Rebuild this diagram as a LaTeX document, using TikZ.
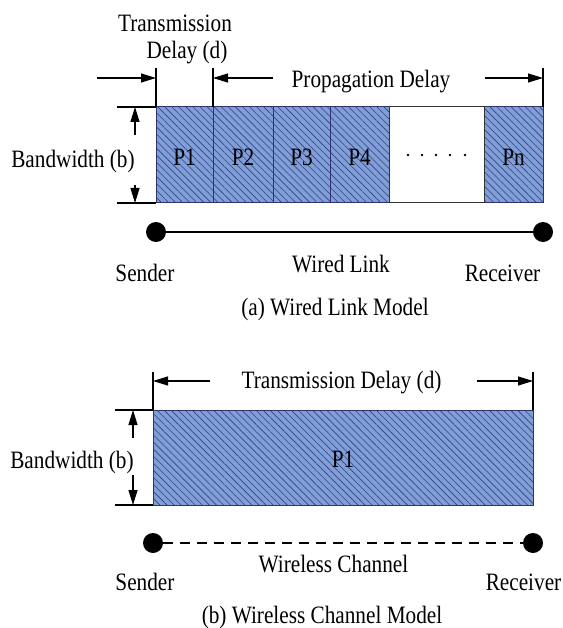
\documentclass[tikz,border=0pt]{standalone}
\usepackage{fontspec}
\setmainfont{Liberation Serif}[FakeStretch=0.85]
\usetikzlibrary{arrows.meta,patterns.meta}
\definecolor{pktblue}{RGB}{128,158,216}
\definecolor{pkthatch}{RGB}{52,64,126}
\definecolor{pktedge}{RGB}{50,50,110}
\tikzset{
  txt/.style = {font = \fontsize{25}{30}\selectfont, inner sep = 0pt, anchor = base},
  pkt/.style = {draw = pktedge, line width = 1pt, preaction = {fill = pktblue},
    pattern = {Lines[angle = -45, distance = 5pt, line width = 0.6pt]}, pattern color = pkthatch},
  dim/.style = {line width = 1.2pt, -{Triangle[length = 15pt, width = 9pt]}},
  tick/.style = {line width = 1.2pt},
  host/.style = {circle, fill = black, minimum size = 20pt, inner sep = 0pt},
}
\begin{document}
\begin{tikzpicture}[x = 1pt, y = -1pt]
  \useasboundingbox (0,0) rectangle (562,628);
  % (a) wired link
  \foreach \l/\r/\name in {156/213/P1, 213/273/P2, 273/330/P3, 330/389/P4, 484/543/Pn}{
    \draw[pkt] (\l,107) rectangle (\r,203);
    \node[txt] (\name) at ({(\l+\r)/2},166) {\name};
  }
  \draw[line width = 1pt, black!80] (389,107) rectangle (484,203);
  \foreach \x in {408,422,436,450,465}
    \fill (\x,155) circle (1.3pt);
  \draw[tick] (117,107) -- (156,107) (117,203) -- (156,203);
  \draw[dim] (135,135) -- (135,107);
  \draw[dim] (135,185) -- (135,203);
  \node[txt] (bwa) at (73,168) {Bandwidth (b)};
  \draw[tick] (156,68) -- (156,107) (213,68) -- (213,107) (543,68) -- (543,107);
  \draw[dim] (97,78) -- (156,78);
  \draw[dim] (273,78) -- (213,78);
  \draw[dim] (485,78) -- (543,78);
  \node[txt] (trxa) at (175,31.5) {Transmission};
  \node[txt] (dlya) at (187,59) {Delay (d)};
  \node[txt] (prop) at (371,88) {Propagation Delay};
  \node[host] (snda) at (156,232) {};
  \node[host] (rcva) at (543,232) {};
  \draw[line width = 2pt] (snda) -- (rcva);
  \node[txt] (snda-l) at (145,281) {Sender};
  \node[txt] (wired) at (341,272) {Wired Link};
  \node[txt] (rcva-l) at (502.5,281) {Receiver};
  \node[txt] (capa) at (335,315) {(a) Wired Link Model};
  % (b) wireless channel
  \draw[pkt] (153,410) rectangle (533,505);
  \node[txt] (P1b) at (343,467) {P1};
  \draw[tick] (115,410) -- (153,410) (115,505) -- (153,505);
  \draw[dim] (133,438) -- (133,410);
  \draw[dim] (133,475) -- (133,505);
  \node[txt] (bwb) at (72,468) {Bandwidth (b)};
  \draw[tick] (153,372) -- (153,410) (533,372) -- (533,410);
  \draw[dim] (210,381) -- (153,381);
  \draw[dim] (477,381) -- (533,381);
  \node[txt] (trxb) at (341.5,388) {Transmission Delay (d)};
  \node[host] (sndb) at (153,543) {};
  \node[host] (rcvb) at (533,543) {};
  \draw[line width = 2pt, dash pattern = on 10pt off 7pt] (sndb) -- (rcvb);
  \node[txt] (sndb-l) at (145,590) {Sender};
  \node[txt] (wless) at (333.5,572) {Wireless Channel};
  \node[txt] (rcvb-l) at (523.5,590) {Receiver};
  \node[txt] (capb) at (322,623) {(b) Wireless Channel Model};
\end{tikzpicture}
\end{document}
